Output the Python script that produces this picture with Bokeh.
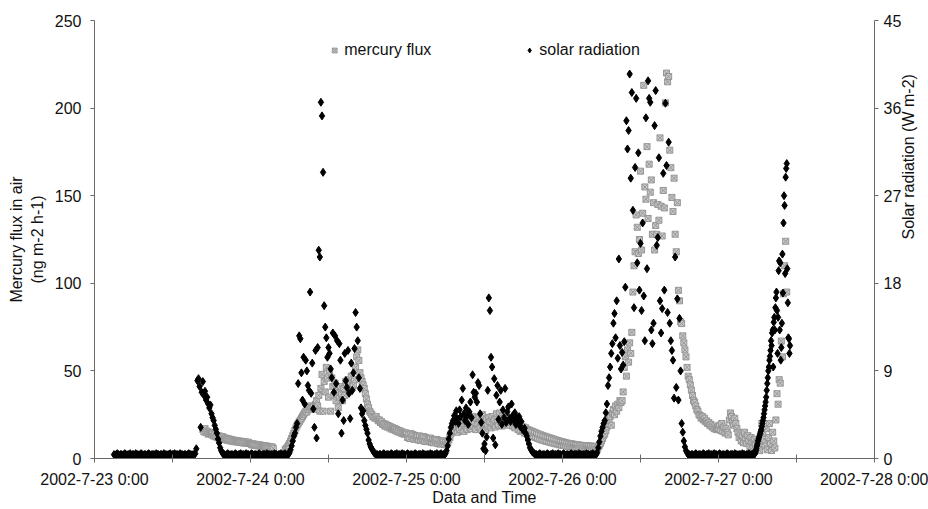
import math
import numpy as np
import pandas as pd
from bokeh.plotting import figure
from bokeh.models import Range1d, LinearAxis, FixedTicker, Legend, LegendItem, ColumnDataSource
from bokeh.embed import file_html
from bokeh.resources import INLINE

ORIGIN = pd.Timestamp("2002-07-23 00:00")

# ---------------- axis ticks / labels ----------------
x_day_ticks = [0, 24, 48, 72, 96, 120]          # hours since 2002-7-23 0:00
x_half_ticks = [12, 36, 60, 84, 108]
x_day_labels = ["2002-7-23 0:00", "2002-7-24 0:00", "2002-7-25 0:00",
                "2002-7-26 0:00", "2002-7-27 0:00", "2002-7-28 0:00"]
flux_ticks = [0, 50, 100, 150, 200, 250]
solar_ticks = [0, 9, 18, 27, 36, 45]

# ---------------- solar radiation (W m-2), 10-min readings, one line = one hour ----------------
solar_night_0723 = [  # 03:00 - 15:30
    0.4, 0.3, 0.4, 0.5, 0.4, 0.3,
    0.4, 0.4, 0.3, 0.4, 0.5, 0.4,
    0.3, 0.4, 0.4, 0.5, 0.3, 0.4,
    0.4, 0.3, 0.5, 0.4, 0.4, 0.3,
    0.4, 0.5, 0.4, 0.3, 0.4, 0.4,
    0.3, 0.4, 0.5, 0.4, 0.3, 0.4,
    0.4, 0.4, 0.3, 0.5, 0.4, 0.4,
    0.3, 0.4, 0.4, 0.3, 0.5, 0.4,
    0.4, 0.3, 0.4, 0.4, 0.5, 0.3,
    0.4, 0.4, 0.5, 0.3, 0.4, 0.4,
    0.3, 0.5, 0.4, 0.4, 0.3, 0.4,
    0.4, 0.3, 0.4, 0.5, 0.4, 0.4,
    0.3, 0.4, 0.4, 0.5,
]
solar_day_0723 = [  # 15:40 - 19:40
    1.0, 8.0,
    8.2, 7.4, 3.2, 6.8, 7.9, 6.5,
    6.9, 6.0, 6.3, 5.6, 5.2, 5.5,
    4.6, 4.2, 3.9, 3.4, 3.0, 2.6,
    2.0, 1.6, 1.1, 0.8, 0.6,
]
solar_night_0724 = [  # 7-23 19:50 - 7-24 05:50
    0.4,
    0.4, 0.3, 0.4, 0.5, 0.4, 0.3,
    0.4, 0.4, 0.3, 0.4, 0.5, 0.4,
    0.3, 0.4, 0.4, 0.5, 0.3, 0.4,
    0.4, 0.3, 0.5, 0.4, 0.4, 0.3,
    0.4, 0.5, 0.4, 0.3, 0.4, 0.4,
    0.3, 0.4, 0.5, 0.4, 0.3, 0.4,
    0.4, 0.4, 0.3, 0.5, 0.4, 0.4,
    0.3, 0.4, 0.4, 0.3, 0.5, 0.4,
    0.4, 0.3, 0.4, 0.4, 0.5, 0.3,
    0.4, 0.4, 0.5, 0.3, 0.4, 0.4,
]
solar_day_0724 = [  # 06:00 - 19:10
    0.6, 0.9, 1.3, 1.8, 2.3, 2.6,
    3.2, 3.6, 7.7, 12.6, 12.3, 8.8,
    6.0, 10.4, 5.6, 10.1, 9.0, 7.5,
    7.0, 17.1, 6.7, 9.8, 5.1, 3.2,
    11.1, 2.1, 11.4, 21.4, 20.7, 36.6,
    35.2, 29.4, 15.7, 13.5, 12.4, 10.4,
    11.4, 10.8, 9.2, 8.3, 12.9, 6.8,
    12.6, 7.7, 12.1, 4.6, 11.8, 10.1,
    2.6, 6.0, 3.9, 10.8, 8.0, 7.3,
    11.1, 6.7, 4.1, 9.8, 7.0, 8.8,
    11.3, 15.0, 13.5, 12.1, 8.3, 7.2,
    5.2, 4.6, 4.9, 3.9, 3.4, 3.0,
    2.6, 1.9, 1.5, 1.2, 1.0, 0.8,
    0.6, 0.5,
]
solar_night_0725 = [  # 7-24 19:20 - 7-25 05:50
    0.4, 0.4, 0.3, 0.4,
    0.4, 0.3, 0.4, 0.5, 0.4, 0.3,
    0.4, 0.4, 0.3, 0.4, 0.5, 0.4,
    0.3, 0.4, 0.4, 0.5, 0.3, 0.4,
    0.4, 0.3, 0.5, 0.4, 0.4, 0.3,
    0.4, 0.5, 0.4, 0.3, 0.4, 0.4,
    0.3, 0.4, 0.5, 0.4, 0.3, 0.4,
    0.4, 0.4, 0.3, 0.5, 0.4, 0.4,
    0.3, 0.4, 0.4, 0.3, 0.5, 0.4,
    0.4, 0.3, 0.4, 0.4, 0.5, 0.3,
    0.4, 0.4, 0.5, 0.3, 0.4, 0.4,
]
solar_day_0725 = [  # 06:00 - 19:40
    0.5, 0.8, 1.3, 2.0, 2.6, 3.2,
    3.6, 3.9, 4.4, 3.8, 4.9, 4.1,
    3.6, 5.0, 4.3, 6.0, 7.2, 4.6,
    3.9, 5.2, 4.4, 3.5, 4.8, 5.8,
    4.2, 8.6, 6.8, 6.3, 6.7, 5.8,
    7.8, 7.5, 4.6, 3.7, 2.6, 1.0,
    1.5, 0.8, 2.2, 7.0, 16.5, 15.2,
    10.4, 9.4, 2.1, 8.2, 1.4, 6.5,
    7.5, 4.0, 5.8, 7.0, 3.5, 5.0,
    4.2, 7.2, 3.7, 4.8, 5.3, 4.1,
    3.8, 5.6, 4.4, 3.9, 4.7, 3.5,
    4.2, 3.6, 4.3, 3.3, 3.8, 3.0,
    2.9, 3.1, 2.6, 2.3, 1.9, 1.5,
    1.1, 0.9, 0.7, 0.6, 0.5,
]
solar_night_0726 = [  # 7-25 19:50 - 7-26 05:10
    0.4,
    0.4, 0.3, 0.4, 0.5, 0.4, 0.3,
    0.4, 0.4, 0.3, 0.4, 0.5, 0.4,
    0.3, 0.4, 0.4, 0.5, 0.3, 0.4,
    0.4, 0.3, 0.5, 0.4, 0.4, 0.3,
    0.4, 0.5, 0.4, 0.3, 0.4, 0.4,
    0.3, 0.4, 0.5, 0.4, 0.3, 0.4,
    0.4, 0.4, 0.3, 0.5, 0.4, 0.4,
    0.3, 0.4, 0.4, 0.3, 0.5, 0.4,
    0.4, 0.3, 0.4, 0.4, 0.5, 0.3,
    0.4, 0.4,
]
solar_day_0726 = [  # 05:20 - 19:10
    0.6, 1.1, 1.7, 2.3,
    2.8, 3.2, 3.6, 3.9, 4.7, 5.6,
    7.5, 8.3, 9.4, 10.8, 11.8, 13.9,
    14.9, 12.4, 16.2, 10.3, 20.5, 11.6,
    9.2, 10.9, 9.6, 12.0, 17.6, 34.7,
    31.8, 33.7, 39.5, 28.8, 37.6, 25.5,
    15.5, 29.9, 37.0, 20.1, 31.4, 17.3,
    22.1, 15.2, 24.2, 16.7, 12.1, 35.0,
    19.5, 38.8, 37.0, 36.6, 13.2, 11.8,
    13.9, 34.2, 37.8, 21.9, 22.7, 30.9,
    16.2, 12.9, 15.4, 29.3, 17.3, 36.5,
    30.1, 15.0, 32.5, 13.9, 12.1, 11.1,
    10.1, 6.2, 20.7, 7.3, 16.4, 6.0,
    14.4, 9.0, 3.6, 2.7, 1.8, 1.2,
    0.8, 0.6,
]
solar_night_0727 = [  # 7-26 19:20 - 7-27 05:20
    0.4, 0.4, 0.3, 0.4,
    0.4, 0.3, 0.4, 0.5, 0.4, 0.3,
    0.4, 0.4, 0.3, 0.4, 0.5, 0.4,
    0.3, 0.4, 0.4, 0.5, 0.3, 0.4,
    0.4, 0.3, 0.5, 0.4, 0.4, 0.3,
    0.4, 0.5, 0.4, 0.3, 0.4, 0.4,
    0.3, 0.4, 0.5, 0.4, 0.3, 0.4,
    0.4, 0.4, 0.3, 0.5, 0.4, 0.4,
    0.3, 0.4, 0.4, 0.3, 0.5, 0.4,
    0.4, 0.3, 0.4, 0.4, 0.5, 0.3,
    0.4, 0.4, 0.5,
]
solar_day_0727 = [  # 05:30 - 11:00, 5-min readings
    0.4, 0.5, 0.6, 0.8, 1.0, 1.3,
    1.5, 1.8, 2.0, 2.2, 2.4, 2.6,
    2.8, 3.0, 3.3, 3.6, 3.9, 4.2,
    4.6, 5.0, 5.4, 5.8, 6.3, 7.0,
    7.7, 8.3, 9.0, 9.4, 10.1, 10.5,
    11.1, 12.1, 11.6, 12.9, 13.2, 9.4,
    14.0, 14.5, 13.2, 15.5, 16.5, 17.1,
    15.2, 10.8, 14.5, 19.3, 20.3, 13.2,
    20.1, 10.1, 11.4, 13.9, 21.0, 17.0,
    24.2, 27.0, 26.0, 19.0, 28.9, 29.8,
    30.3, 19.5, 16.0, 12.4, 12.3, 10.8, 11.6,
]

# ---------------- mercury flux (ng m-2 h-1), 10-min readings ----------------
flux_0723 = [  # 7-23 16:40 - 7-24 03:30
    16.5, 15.2,
    17.0, 14.8, 15.6, 13.9, 15.0, 14.2,
    13.5, 14.6, 12.8, 13.9, 12.3, 13.1,
    11.8, 12.9, 12.0, 11.2, 12.5, 11.0,
    11.8, 10.7, 11.5, 10.4, 11.2, 10.1,
    10.9, 9.8, 10.6, 9.6, 10.3, 9.5,
    10.2, 9.3, 9.9, 9.1, 9.8, 8.9,
    9.6, 8.8, 9.4, 8.6, 9.3, 8.5,
    8.6, 7.8, 8.4, 7.6, 8.2, 7.4,
    8.0, 7.2, 7.8, 7.0, 7.6, 6.8,
    7.4, 6.6, 7.2, 6.4, 7.0, 6.2,
    6.8, 6.0, 6.6, 5.8,
]
flux_0724 = [  # 05:20 - 23:50
    5.0, 5.7, 6.5, 7.5,
    8.6, 10.0, 11.5, 13.0, 14.5, 16.0,
    17.5, 19.0, 20.0, 21.0, 22.0, 23.0,
    24.0, 25.0, 26.0, 27.0, 26.5, 28.0,
    29.0, 30.0, 29.0, 29.0, 30.0, 28.0,
    31.0, 33.0, 30.0, 36.0, 27.0, 40.0,
    48.0, 27.0, 44.0, 38.0, 52.0, 46.0,
    35.0, 50.0, 27.0, 46.0, 41.0, 36.0,
    43.0, 33.0, 39.0, 29.0, 35.0, 41.0,
    37.0, 33.0, 40.0, 36.0, 44.0, 42.0,
    45.0, 38.0, 43.0, 47.0, 41.0, 42.0,
    45.0, 52.0, 58.0, 62.0, 56.0, 49.0,
    46.0, 44.0, 42.0, 40.0, 37.0, 34.0,
    31.0, 29.0, 27.0, 26.0, 25.0, 24.0,
    23.5, 23.0, 24.0, 22.5, 21.5, 22.0,
    20.5, 21.0, 19.5, 20.0, 18.5, 19.5,
    18.0, 18.8, 17.5, 18.2, 16.8, 17.6,
    16.4, 17.2, 15.8, 16.6, 15.2, 16.0,
    14.8, 15.6, 14.2, 15.0, 13.8, 14.5,
]
flux_0725 = [  # 00:00 - 23:50
    14.5, 12.0, 13.8, 11.4, 14.2, 12.3,
    13.6, 10.9, 13.1, 11.6, 12.8, 10.5,
    12.9, 10.2, 12.2, 11.0, 12.5, 9.8,
    11.9, 9.6, 11.4, 10.3, 11.7, 9.2,
    11.0, 8.9, 10.6, 9.5, 10.9, 8.5,
    10.3, 8.2, 9.9, 8.8, 10.1, 7.9,
    9.6, 7.8, 9.2, 10.5, 12.0, 14.0,
    15.5, 17.0, 16.0, 19.5, 17.5, 15.0,
    19.0, 16.5, 21.0, 17.5, 20.0, 15.5,
    22.0, 18.0, 16.5, 23.0, 19.5, 17.0,
    21.5, 24.0, 18.5, 20.5, 16.5, 22.5,
    19.5, 23.5, 17.5, 21.0, 25.0, 18.5,
    20.5, 16.0, 22.5, 19.0, 23.5, 21.0,
    17.5, 24.0, 20.0, 22.0, 18.0, 25.5,
    21.0, 19.0, 26.0, 22.5, 18.5, 24.5,
    23.0, 20.0, 25.5, 21.5, 19.0, 23.5,
    20.5, 22.5, 18.5, 21.0, 17.5, 20.0,
    19.5, 16.5, 20.0, 15.5, 18.5, 16.0,
    18.0, 14.5, 17.5, 15.0, 16.5, 13.5,
    16.0, 13.0, 15.5, 12.5, 15.0, 12.0,
    14.5, 11.5, 14.0, 11.0, 13.5, 10.5,
    13.0, 10.2, 12.6, 9.8, 12.2, 9.5,
    11.8, 9.2, 11.4, 8.8, 11.0, 8.5,
    10.6, 8.2, 10.2, 7.9, 9.8, 7.6,
]
flux_0726 = [  # 00:00 - 23:50
    9.5, 7.5, 9.2, 7.2, 8.9, 7.0,
    8.6, 6.8, 8.4, 6.6, 8.2, 6.4,
    8.0, 6.2, 7.8, 6.0, 7.6, 5.9,
    7.5, 5.8, 7.4, 5.7, 7.3, 5.6,
    7.2, 5.5, 7.1, 5.4, 7.0, 5.3,
    6.9, 5.2, 5.5, 6.5, 7.5, 8.6,
    10.0, 11.5, 13.0, 14.0, 16.0, 18.0,
    20.0, 22.0, 24.0, 19.0, 26.0, 28.0,
    25.0, 30.0, 27.0, 31.0, 29.0, 33.0,
    32.0, 33.0, 38.0, 52.0, 58.0, 47.0,
    62.0, 55.0, 66.0, 60.0, 72.0, 95.0,
    110.0, 118.0, 139.0, 132.0, 117.0, 125.0,
    164.0, 119.0, 140.0, 213.0, 155.0, 148.0,
    178.0, 137.0, 168.0, 152.0, 159.0, 128.0,
    146.0, 119.0, 133.0, 128.0, 145.0, 136.0,
    183.0, 144.0, 127.0, 153.0, 143.0, 203.0,
    220.0, 215.0, 218.0, 176.0, 166.0, 149.0,
    141.0, 160.0, 128.0, 118.0, 146.0, 96.0,
    90.0, 78.0, 77.0, 70.0, 66.0, 62.0,
    58.0, 52.0, 47.0, 45.0, 42.0, 39.0,
    36.0, 33.0, 32.0, 30.0, 28.0, 27.0,
    25.0, 24.5, 23.0, 24.0, 22.0, 23.0,
    21.0, 21.5, 20.0, 20.5, 19.0, 19.5,
    18.0, 18.5, 17.0, 17.5, 16.5, 17.0,
]
flux_0727 = [  # 00:00 - 10:30
    17.0, 19.0, 16.0, 20.0, 15.5, 18.0,
    14.5, 17.0, 15.0, 13.5, 22.0, 26.0,
    24.0, 21.0, 19.0, 23.0, 20.0, 17.0,
    15.0, 12.0, 14.0, 10.0, 13.0, 9.0,
    15.0, 11.0, 8.5, 13.0, 10.0, 7.0,
    12.0, 9.0, 6.5, 11.0, 8.0, 5.0,
    9.0, 6.0, 4.5, 8.6, 20.0, 14.0,
    11.0, 7.0, 17.0, 5.0, 12.0, 20.0,
    8.6, 4.6, 15.0, 10.0, 6.0, 22.0,
    37.0, 31.0, 45.0, 43.0, 67.0, 58.0,
    94.0, 110.0, 124.0, 95.0,
]

solar_segments = [
    ("2002-07-23 03:00", 10, solar_night_0723),
    ("2002-07-23 15:40", 10, solar_day_0723),
    ("2002-07-23 19:50", 10, solar_night_0724),
    ("2002-07-24 06:00", 10, solar_day_0724),
    ("2002-07-24 19:20", 10, solar_night_0725),
    ("2002-07-25 06:00", 10, solar_day_0725),
    ("2002-07-25 19:50", 10, solar_night_0726),
    ("2002-07-26 05:20", 10, solar_day_0726),
    ("2002-07-26 19:20", 10, solar_night_0727),
    ("2002-07-27 05:30", 5, solar_day_0727),
]
flux_segments = [
    ("2002-07-23 16:40", 10, flux_0723),
    ("2002-07-24 05:20", 10, flux_0724),
    ("2002-07-25 00:00", 10, flux_0725),
    ("2002-07-26 00:00", 10, flux_0726),
    ("2002-07-27 00:00", 10, flux_0727),
]


def build(segments):
    xs, ys = [], []
    for start, step, vals in segments:
        t0 = (pd.Timestamp(start) - ORIGIN) / pd.Timedelta(hours=1)
        v = np.array(vals, dtype=float)
        xs.append(t0 + np.arange(len(v)) * step / 60.0)
        ys.append(v)
    return np.concatenate(xs), np.concatenate(ys)


fx, fy = build(flux_segments)
sx, sy = build(solar_segments)
flux_src = ColumnDataSource(dict(x=fx, y=fy))
solar_src = ColumnDataSource(dict(x=sx, y=sy))

FONT = "Liberation Sans"
TXT = "#111111"
AXC = "#6a6a6a"

p = figure(width=928, height=508, x_range=Range1d(0, 120), y_range=Range1d(0, 250),
           output_backend="svg", toolbar_location=None,
           min_border_left=94, min_border_right=51, min_border_top=20, min_border_bottom=50)
p.extra_y_ranges = {"solar": Range1d(0, 45)}
p.grid.visible = False
p.outline_line_color = None
p.background_fill_color = "white"
p.border_fill_color = "white"

r_flux = p.scatter("x", "y", source=flux_src, marker="square_x", size=6,
                   fill_color="#c8c8c8", line_color="#969696", line_width=1)
r_solar = p.scatter("x", "y", source=solar_src, marker="diamond", size=8,
                    fill_color="#000000", line_color="#000000", y_range_name="solar")

# x axis
xa = p.xaxis[0]
xa.ticker = FixedTicker(ticks=x_day_ticks, minor_ticks=x_half_ticks)
xa.major_label_overrides = {t: lab for t, lab in zip(x_day_ticks, x_day_labels)}
xa.axis_label = "Data and Time"

# left axis
ya = p.yaxis[0]
ya.ticker = FixedTicker(ticks=flux_ticks)
ya.axis_label = "Mercury flux in air\n(ng m-2 h-1)"

# right axis
ra = LinearAxis(y_range_name="solar", ticker=FixedTicker(ticks=solar_ticks),
                axis_label="Solar radiation (W m-2)")
p.add_layout(ra, "right")
try:
    ra.axis_label_orientation = math.pi / 2
except Exception:
    pass

for ax in (xa, ya, ra):
    ax.axis_line_color = AXC
    ax.axis_line_width = 1
    ax.major_tick_line_color = AXC
    ax.minor_tick_line_color = AXC
    ax.major_label_text_font = FONT
    ax.major_label_text_font_size = "16px"
    ax.major_label_text_color = TXT
    ax.axis_label_text_font = FONT
    ax.axis_label_text_font_size = "16px"
    ax.axis_label_text_font_style = "normal"
    ax.axis_label_text_color = TXT

xa.major_tick_in = 4
xa.major_tick_out = 4
xa.minor_tick_in = 4
xa.minor_tick_out = 4
xa.major_label_standoff = 8
xa.axis_label_standoff = -2

ya.major_tick_in = 0
ya.major_tick_out = 4
ya.minor_tick_line_color = None
ya.major_label_standoff = 9
ya.axis_label_standoff = 6

ra.major_tick_in = 0
ra.major_tick_out = 4
ra.minor_tick_line_color = None
ra.major_label_standoff = 5
ra.axis_label_standoff = 4

legend = Legend(items=[LegendItem(label="mercury flux", renderers=[r_flux]),
                       LegendItem(label="solar radiation", renderers=[r_solar])],
                orientation="horizontal", location="top_center",
                spacing=92, glyph_width=12, glyph_height=16, label_standoff=4,
                border_line_color=None, background_fill_alpha=0,
                label_text_font=FONT, label_text_font_size="16px", label_text_color=TXT,
                padding=8, margin=21)
p.add_layout(legend)

with open("out.html", "w") as f:
    f.write(file_html(p, INLINE))
